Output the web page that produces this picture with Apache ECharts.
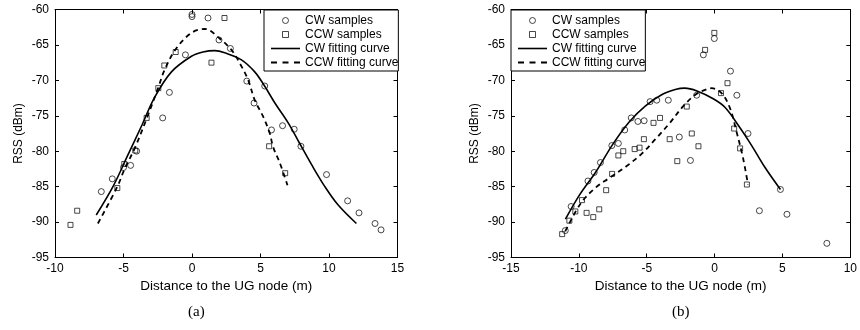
<!DOCTYPE html>
<html><head><meta charset="utf-8">
<script src="https://cdn.jsdelivr.net/npm/echarts@6/dist/echarts.min.js"></script>
<style>html,body{margin:0;padding:0;background:#fff}#c{width:860px;height:330px}</style>
</head><body><div id="c"></div>
<script>
// ---- tick labels ----
const xTicksA = [-10, -5, 0, 5, 10, 15];
const xTicksB = [-15, -10, -5, 0, 5, 10];
const yTicks = [-95, -90, -85, -80, -75, -70, -65, -60];

// ---- legend / axis texts ----
const legendNames = ['CW samples', 'CCW samples', 'CW fitting curve', 'CCW fitting curve'];
const xAxisTitle = 'Distance to the UG node (m)';
const yAxisTitle = 'RSS (dBm)';
const captions = ['(a)', '(b)'];

// ---- panel (a) ----
const aCwSamples = [[0,-60.7],[0,-61.0],[1.17,-61.2],[1.97,-64.3],[2.8,-65.5],[-0.48,-66.4],[-1.65,-71.7],[-2.14,-75.3],
  [-4.04,-80.0],[-4.48,-82.0],[-5.0,-82.3],[-5.82,-83.9],[-6.62,-85.7],[4.0,-70.1],[5.31,-70.8],[4.53,-73.2],
  [5.8,-77.0],[6.61,-76.4],[7.46,-76.9],[7.95,-79.3],[9.82,-83.3],[11.36,-87.0],[12.19,-88.7],[13.36,-90.2],[13.8,-91.1]];
const aCcwSamples = [[2.37,-61.2],[1.42,-67.5],[-1.19,-66.0],[-2.02,-67.9],[-2.46,-71.1],[-3.31,-75.3],[-4.14,-79.9],
  [-4.94,-81.8],[-5.45,-85.2],[-8.38,-88.4],[-8.87,-90.4],[5.63,-79.3],[6.8,-83.1]];
const aCwCurve = [[-6.99,-89.0],[-5.77,-85.0],[-4.72,-80.7],[-3.65,-76.3],[-2.73,-72.4],[-1.5,-68.8],[-0.04,-66.6],
  [0.8,-66.0],[1.66,-65.8],[2.39,-66.1],[3.61,-67.1],[4.58,-68.8],[5.3,-70.8],[6.05,-73.2],[7.02,-76.0],
  [7.8,-78.7],[8.73,-81.9],[9.7,-85.0],[10.67,-87.6],[12.0,-90.2]];
const aCcwCurve = [[-6.87,-90.2],[-5.45,-85.0],[-4.94,-82.6],[-4.14,-79.4],[-3.31,-75.4],[-2.46,-71.0],[-2.02,-68.6],
  [-1.19,-65.6],[-0.04,-63.3],[0.93,-62.75],[2.02,-64.1],[2.88,-65.7],[3.49,-67.6],[4.09,-69.9],[4.58,-72.8],
  [5.19,-75.1],[5.68,-77.5],[5.92,-79.4],[6.4,-81.6],[6.97,-84.8]];

// ---- panel (b) ----
const bCwSamples = [[-11.0,-91.2],[-10.57,-87.8],[-9.33,-84.2],[-8.87,-83.0],[-8.41,-81.6],[-7.57,-79.2],[-7.09,-78.9],
  [-6.62,-77.0],[-6.14,-75.3],[-5.65,-75.8],[-5.19,-75.7],[-4.75,-73.0],[-4.26,-72.8],[-3.41,-72.8],[-2.6,-78.0],
  [-1.78,-81.3],[-1.32,-72.1],[-0.83,-66.4],[-0.02,-64.1],[1.17,-68.7],[1.64,-72.1],[2.46,-77.5],[3.3,-88.4],
  [4.85,-85.4],[5.33,-88.9],[8.27,-93.0]];
const bCcwSamples = [[-11.23,-91.7],[-10.7,-89.8],[-10.26,-88.5],[-9.77,-86.9],[-9.43,-88.7],[-8.94,-89.3],[-8.5,-88.2],
  [-7.99,-85.5],[-7.55,-83.2],[-7.09,-80.6],[-6.73,-80.0],[-5.89,-79.7],[-5.53,-79.5],[-5.21,-78.3],[-4.5,-76.0],
  [-4.02,-75.3],[-3.31,-78.3],[-2.75,-81.4],[-2.05,-73.7],[-1.68,-77.5],[-1.19,-79.3],[-0.7,-65.7],[-0.02,-63.3],
  [0.47,-71.8],[0.95,-70.4],[1.44,-76.8],[1.88,-79.6],[2.38,-84.7]];
const bCwCurve = [[-10.99,-89.6],[-9.96,-86.2],[-8.74,-82.9],[-7.53,-79.1],[-6.31,-75.9],[-5.09,-73.6],[-3.87,-72.0],
  [-2.9,-71.3],[-2.2,-71.1],[-1.3,-71.5],[-0.1,-72.6],[0.76,-73.8],[1.73,-76.3],[2.7,-79.1],[3.68,-82.2],[4.85,-85.4]];
const bCcwCurve = [[-11.0,-91.3],[-9.84,-87.3],[-8.74,-85.1],[-7.77,-83.8],[-6.55,-82.2],[-5.34,-80.3],[-4.36,-78.3],
  [-3.38,-76.2],[-2.29,-73.6],[-1.4,-72.0],[-0.7,-71.35],[-0.22,-71.1],[0.51,-71.8],[1.13,-73.9],[1.61,-77.2],
  [2.1,-81.0],[2.46,-84.7]];

const FONT = '"Liberation Sans", Arial, Helvetica, sans-serif';
const grids = [
  {left: 55, top: 9.5, width: 342.5, height: 248},
  {left: 511, top: 9.5, width: 341.5, height: 248}
];
const xTicks = [xTicksA, xTicksB];
const blk = {color: '#000', width: 1};

const xAxes = [], yAxes = [];
grids.forEach((g, i) => {
  const xt = xTicks[i];
  const xcommon = {gridIndex: i, type: 'value', min: xt[0], max: xt[xt.length-1], interval: xt[1]-xt[0],
    splitLine: {show: false}, axisLine: {show: true, onZero: false, lineStyle: blk},
    axisTick: {show: true, inside: true, length: 4, lineStyle: blk}};
  xAxes.push(Object.assign({}, xcommon, {position: 'bottom',
    axisLabel: {color: '#000', fontSize: 12, fontFamily: FONT, margin: 5},
    name: xAxisTitle, nameLocation: 'middle', nameGap: 19,
    nameTextStyle: {color: '#000', fontSize: 13.5, fontFamily: FONT}}));
  xAxes.push(Object.assign({}, xcommon, {position: 'top', axisLabel: {show: false}}));
  const ycommon = {gridIndex: i, type: 'value', min: yTicks[0], max: yTicks[yTicks.length-1], interval: yTicks[1]-yTicks[0],
    splitLine: {show: false}, axisLine: {show: true, onZero: false, lineStyle: blk},
    axisTick: {show: true, inside: true, length: 4, lineStyle: blk}};
  yAxes.push(Object.assign({}, ycommon, {position: 'left',
    axisLabel: {color: '#000', fontSize: 12, fontFamily: FONT, margin: 6},
    name: yAxisTitle, nameLocation: 'middle', nameGap: 30,
    nameTextStyle: {color: '#000', fontSize: 12, fontFamily: FONT}}));
  yAxes.push(Object.assign({}, ycommon, {position: 'right', axisLabel: {show: false}}));
});

const hollow = {color: 'rgba(255,255,255,0)', borderColor: '#000', borderWidth: 0.9};
function mk(i, samplesCw, samplesCcw, curveCw, curveCcw) {
  const xi = i * 2, yi = i * 2;
  return [
    {type: 'scatter', name: legendNames[0], xAxisIndex: xi, yAxisIndex: yi, data: samplesCw,
      symbol: 'circle', symbolSize: 6, itemStyle: hollow, z: 3},
    {type: 'scatter', name: legendNames[1], xAxisIndex: xi, yAxisIndex: yi, data: samplesCcw,
      symbol: 'rect', symbolSize: 5, itemStyle: hollow, z: 3},
    {type: 'line', name: legendNames[2], xAxisIndex: xi, yAxisIndex: yi, data: curveCw, showSymbol: false, symbol: 'none',
      smooth: 0.35, lineStyle: {color: '#000', width: 1.6, type: 'solid'}, itemStyle: {color: '#000'}, z: 2},
    {type: 'line', name: legendNames[3], xAxisIndex: xi, yAxisIndex: yi, data: curveCcw, showSymbol: false, symbol: 'none',
      smooth: 0.35, lineStyle: {color: '#000', width: 1.8, type: [5, 4]}, itemStyle: {color: '#000'}, z: 2}
  ];
}
const series = [].concat(
  mk(0, aCwSamples, aCcwSamples, aCwCurve, aCcwCurve),
  mk(1, bCwSamples, bCcwSamples, bCwCurve, bCcwCurve)
);

const hollowIcon = {color: 'rgba(255,255,255,0)', borderColor: '#000', borderWidth: 0.9};
const solidIcon = {color: '#000', borderColor: 'rgba(0,0,0,0)', borderWidth: 0};
const legendData = [
  {name: legendNames[0], icon: 'path://M6,3A3,3,0,1,1,0,3A3,3,0,1,1,6,3Z', itemStyle: hollowIcon},
  {name: legendNames[1], icon: 'path://M0,0H6V6H0Z', itemStyle: hollowIcon},
  {name: legendNames[2], icon: 'path://M0,0H29V1.6H0Z', itemStyle: solidIcon},
  {name: legendNames[3], icon: 'path://M0,0H6V1.8H0ZM11.5,0H17.5V1.8H11.5ZM23,0H29V1.8H23Z', itemStyle: solidIcon}
];

function legendAt(left) {
  return {show: true, orient: 'vertical', left: left, top: 10, data: legendData,
    itemWidth: 29, itemHeight: 6, itemGap: 0, padding: [3.5, 0, 1.5, 7],
    borderColor: '#000', borderWidth: 1, backgroundColor: '#fff', borderRadius: 0,
    selectedMode: false, z: 10,
    textStyle: {color: '#000', fontSize: 12, fontFamily: FONT, lineHeight: 14}};
}

const chart = echarts.init(document.getElementById('c'), null, {renderer: 'canvas'});
chart.setOption({
  animation: false,
  backgroundColor: '#fff',
  grid: grids,
  xAxis: xAxes,
  yAxis: yAxes,
  legend: [legendAt(264), legendAt(511)],
  series: series,
  graphic: [
    {type: 'text', left: 188, top: 305, style: {text: captions[0], fill: '#000', font: '15px "Liberation Serif", "Times New Roman", serif'}},
    {type: 'text', left: 672, top: 305, style: {text: captions[1], fill: '#000', font: '15px "Liberation Serif", "Times New Roman", serif'}}
  ]
});
</script>
</body></html>
